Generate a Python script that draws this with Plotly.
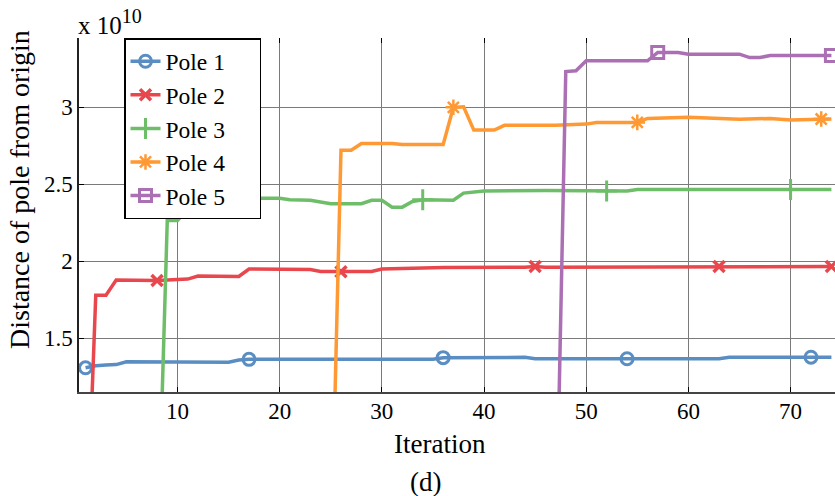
import plotly.graph_objects as go

# ---------------- data (distance in units of 1e10) ----------------
iter_p1 = [1, 2, 3, 4, 5, 15, 16, 17, 35, 36, 44, 45, 54, 63, 64, 72, 74]
dist_p1 = [1.309, 1.322, 1.328, 1.330, 1.348, 1.345, 1.360, 1.364, 1.364, 1.375, 1.377,
           1.368, 1.368, 1.368, 1.378, 1.378, 1.378]
mark_p1 = [1, 17, 36, 54, 72]

iter_p2 = [1, 2, 3, 4, 8, 9, 11, 12, 16, 17, 23, 24, 26, 29, 30, 33, 36, 44, 45, 46, 62, 63, 74]
dist_p2 = [0.0, 1.78, 1.78, 1.879, 1.876, 1.878, 1.885, 1.905, 1.902, 1.950, 1.947, 1.935,
           1.933, 1.935, 1.950, 1.955, 1.960, 1.962, 1.967, 1.962, 1.962, 1.967, 1.967]
mark_p2 = [8, 26, 45, 63, 74]

iter_p3 = [8, 9, 10, 11, 13, 15, 17, 18, 20, 21, 23, 24, 25, 28, 29, 30, 31, 32, 33, 34,
           37, 38, 39, 40, 46, 52, 54, 55, 70, 74]
dist_p3 = [0.0, 2.265, 2.265, 2.342, 2.342, 2.352, 2.352, 2.410, 2.410, 2.400, 2.397, 2.385,
           2.374, 2.374, 2.396, 2.396, 2.352, 2.352, 2.389, 2.400, 2.397, 2.443, 2.450, 2.457,
           2.460, 2.457, 2.457, 2.467, 2.467, 2.467]
mark_p3 = [15, 34, 52, 70]

iter_p4 = [25, 26, 27, 28, 31, 32, 36, 37, 38, 39, 41, 42, 47, 49, 50, 51, 55, 56, 60, 65,
           68, 70, 73, 74]
dist_p4 = [0.0, 2.721, 2.721, 2.765, 2.765, 2.759, 2.759, 3.000, 3.004, 2.852, 2.852, 2.883,
           2.883, 2.891, 2.891, 2.902, 2.902, 2.928, 2.935, 2.922, 2.928, 2.917, 2.924, 2.924]
mark_p4 = [37, 55, 73]

iter_p5 = [47, 48, 49, 50, 56, 57, 59, 60, 65, 66, 67, 68, 74]
dist_p5 = [0.0, 3.232, 3.237, 3.302, 3.302, 3.356, 3.356, 3.345, 3.345, 3.323, 3.323, 3.336, 3.336]
mark_p5 = [57, 74]

series_names = ["Pole 1", "Pole 2", "Pole 3", "Pole 4", "Pole 5"]
x_ticks = [10, 20, 30, 40, 50, 60, 70]
y_ticks = [1.5, 2, 2.5, 3]
y_tick_labels = ["1.5", "2", "2.5", "3"]

# ---------------- styles ----------------
colors = ["#5A8EC2", "#E8484D", "#6EBE69", "#FF9933", "#AB6FB4"]
symbols = ["circle-open", "x-thin", "cross-thin", "asterisk", "square-open"]
msizes = [12, 11, 15, 13, 12]
mlws = [3, 3.5, 3, 2.5, 3]
FONT = "Liberation Serif"
PAD = "\u00a0" * 5

xs = [iter_p1, iter_p2, iter_p3, iter_p4, iter_p5]
ys = [dist_p1, dist_p2, dist_p3, dist_p4, dist_p5]
marks = [mark_p1, mark_p2, mark_p3, mark_p4, mark_p5]

fig = go.Figure()
for i in range(5):
    sz = [msizes[i] if x in marks[i] else 0 for x in xs[i]]
    fig.add_trace(go.Scatter(
        x=xs[i], y=ys[i], name=series_names[i], mode="lines+markers",
        showlegend=False, legendgroup=series_names[i],
        line=dict(color=colors[i], width=3.5),
        marker=dict(symbol=symbols[i], size=sz, color=colors[i], opacity=1,
                    line=dict(color=colors[i], width=mlws[i])),
    ))
for i in range(5):
    fig.add_trace(go.Scatter(
        x=[None], y=[None], name=series_names[i] + PAD, mode="lines+markers",
        legendgroup=series_names[i], hoverinfo="skip",
        line=dict(color=colors[i], width=3.5),
        marker=dict(symbol=symbols[i], size=msizes[i], color=colors[i], opacity=1,
                    line=dict(color=colors[i], width=mlws[i])),
    ))

L, R, T, B = 79, 0, 38, 104
W, H = 835, 496
pw, ph = W - L - R, H - T - B

def px_x(p):
    return (p - L) / pw

def px_y(p):
    return (H - B - p) / ph

fig.update_layout(
    width=W, height=H,
    margin=dict(l=L, r=R, t=T, b=B),
    paper_bgcolor="white", plot_bgcolor="white",
    font=dict(family=FONT, size=23, color="black"),
    showlegend=True,
    legend=dict(x=px_x(124), y=1.0, xanchor="left", yanchor="top",
                bgcolor="white", bordercolor="black", borderwidth=1.5,
                font=dict(family=FONT, size=23.5), itemsizing="trace",
                tracegroupgap=0),
    xaxis=dict(range=[0.36, 74.35], tickvals=x_ticks, ticks="inside", ticklen=5,
               tickcolor="black", showgrid=True, gridcolor="#7a7a7a", gridwidth=1,
               showline=True, linecolor="#444", linewidth=1.5, zeroline=False,
               tickfont=dict(family=FONT, size=23), ticklabelstandoff=-2),
    xaxis2=dict(overlaying="x", side="top", matches="x", range=[0.36, 74.35],
                tickvals=x_ticks, ticks="inside", ticklen=5, tickcolor="black",
                showticklabels=False, showgrid=False, showline=False, zeroline=False),
    yaxis=dict(range=[1.152, 3.45], tickvals=y_ticks, ticktext=y_tick_labels,
               ticks="inside", ticklen=5, tickcolor="black", showgrid=True,
               gridcolor="#7a7a7a", gridwidth=1, showline=True, linecolor="#222",
               linewidth=1.5, zeroline=False, tickfont=dict(family=FONT, size=23),
               ticklabelstandoff=0),
    annotations=[
        dict(text="Iteration", x=px_x(440), y=px_y(444), xref="paper", yref="paper",
             xanchor="center", yanchor="middle", showarrow=False,
             font=dict(family=FONT, size=27)),
        dict(text="(d)", x=px_x(425), y=px_y(482), xref="paper", yref="paper",
             xanchor="center", yanchor="middle", showarrow=False,
             font=dict(family=FONT, size=27)),
        dict(text="Distance of pole from origin", x=px_x(19), y=px_y(190),
             xref="paper", yref="paper", xanchor="center", yanchor="middle",
             textangle=-90, showarrow=False, font=dict(family=FONT, size=28)),
        dict(text="x 10<sup><span style=\"font-size:20px\">10</span></sup>",
             x=px_x(76), y=px_y(41), xref="paper", yref="paper",
             xanchor="left", yanchor="bottom", showarrow=False,
             font=dict(family=FONT, size=25)),
    ],
)
# invisible trace so the top tick axis renders
fig.add_trace(go.Scatter(x=[None], y=[None], xaxis="x2", showlegend=False,
                         hoverinfo="skip"))

fig.write_html("out.html")
